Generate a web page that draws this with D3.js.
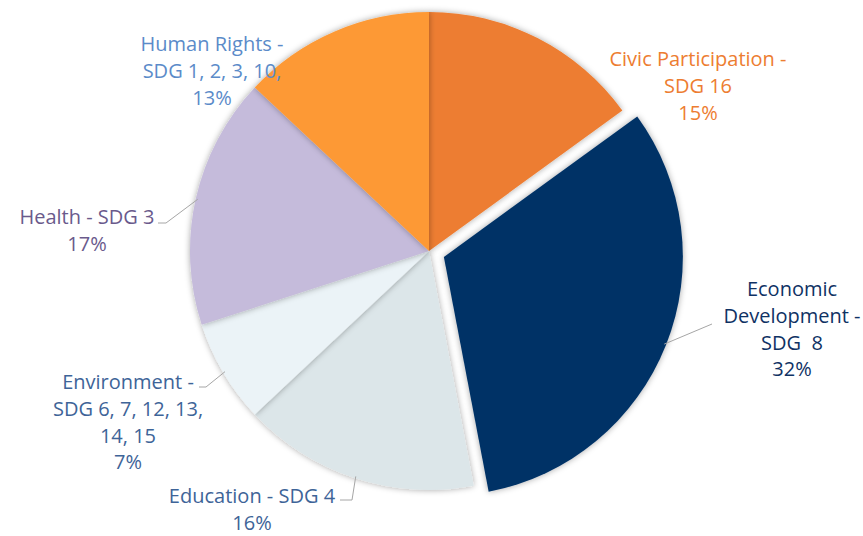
<!DOCTYPE html>
<html><head><meta charset="utf-8">
<script src="https://cdn.jsdelivr.net/npm/d3@7/dist/d3.min.js"></script>
<style>body{margin:0;background:#fff}svg{display:block}</style>
</head><body>
<script>
const categories = ["Civic Participation", "Economic Development", "Education", "Environment", "Health", "Human Rights"];
const values = [15, 32, 16, 7, 17, 13];
const labelLines = [
  ["Civic Participation -", "SDG 16", "15%"],
  ["Economic", "Development -", "SDG\u00a0 8", "32%"],
  ["Education - SDG 4", "16%"],
  ["Environment -", "SDG 6, 7, 12, 13,", "14, 15", "7%"],
  ["Health - SDG 3", "17%"],
  ["Human Rights -", "SDG 1, 2, 3, 10,", "13%"]
];
const sliceColors = ["#ED7D31", "#003366", "#DCE6E9", "#EBF3F7", "#C5BBDB", "#FD9936"];
const textColors = ["#ED7D31", "#0F3264", "#3E6498", "#3E6498", "#6A5A8C", "#5B8BC9"];

// layout
const W = 863, H = 536, cx = 429, cy = 251, R = 239, explode = 16;
const lineGap = 26.8;
const labelPos = [
  {x: 698, y: 66}, {x: 792, y: 296}, {x: 252, y: 503},
  {x: 128, y: 389}, {x: 87, y: 224}, {x: 212, y: 51}
];
// leader lines: angle fraction within slice, elbow point, optional end x
const leaders = {
  1: {frac: 0.5, ex: 712, ey: 324},
  2: {frac: 0.5, ex: 352, ey: 500, tx: 340},
  3: {frac: 0.5, ex: 206, ey: 387, tx: 199},
  4: {frac: 0.5, ex: 166, ey: 223, tx: 158}
};

const svg = d3.select("body").append("svg").attr("width", W).attr("height", H)
  .style("font-family", "'Open Sans', 'Noto Sans', sans-serif");

const defs = svg.append("defs");
const f = defs.append("filter").attr("id", "sh").attr("x", "-20%").attr("y", "-20%").attr("width", "140%").attr("height", "140%");
f.append("feDropShadow").attr("dx", 0).attr("dy", 0).attr("stdDeviation", 3)
  .attr("flood-color", "#000").attr("flood-opacity", 0.35);

const pie = d3.pie().sort(null).value(d => d)(values);
const arc = d3.arc().innerRadius(0).outerRadius(R);

const g = svg.append("g").attr("transform", `translate(${cx},${cy})`);
g.selectAll("path").data(pie).join("path")
  .attr("d", arc)
  .attr("fill", (d, i) => sliceColors[i])
  .attr("filter", "url(#sh)")
  .attr("transform", (d, i) => {
    if (i !== 1) return null;
    const a = (d.startAngle + d.endAngle) / 2;
    return `translate(${Math.sin(a) * explode},${-Math.cos(a) * explode})`;
  });

// leader lines
Object.entries(leaders).forEach(([k, L]) => {
  const i = +k, d = pie[i];
  const a = d.startAngle + (d.endAngle - d.startAngle) * L.frac;
  const off = i === 1 ? explode : 0;
  const ma = (d.startAngle + d.endAngle) / 2;
  const px = cx + Math.sin(a) * (R - 2) + Math.sin(ma) * off;
  const py = cy - Math.cos(a) * (R - 2) - Math.cos(ma) * off;
  const pts = [[px, py], [L.ex, L.ey]];
  if (L.tx !== undefined) pts.push([L.tx, L.ey]);
  svg.append("path").attr("d", d3.line()(pts)).attr("fill", "none")
    .attr("stroke", "#A6A6A6").attr("stroke-width", 1);
});

// labels
labelLines.forEach((lines, i) => {
  const t = svg.append("text").attr("text-anchor", "middle")
    .attr("fill", textColors[i]).attr("font-size", 20);
  lines.forEach((s, j) => {
    t.append("tspan").attr("x", labelPos[i].x).attr("y", labelPos[i].y + j * lineGap).text(s);
  });
});
</script>
</body></html>
